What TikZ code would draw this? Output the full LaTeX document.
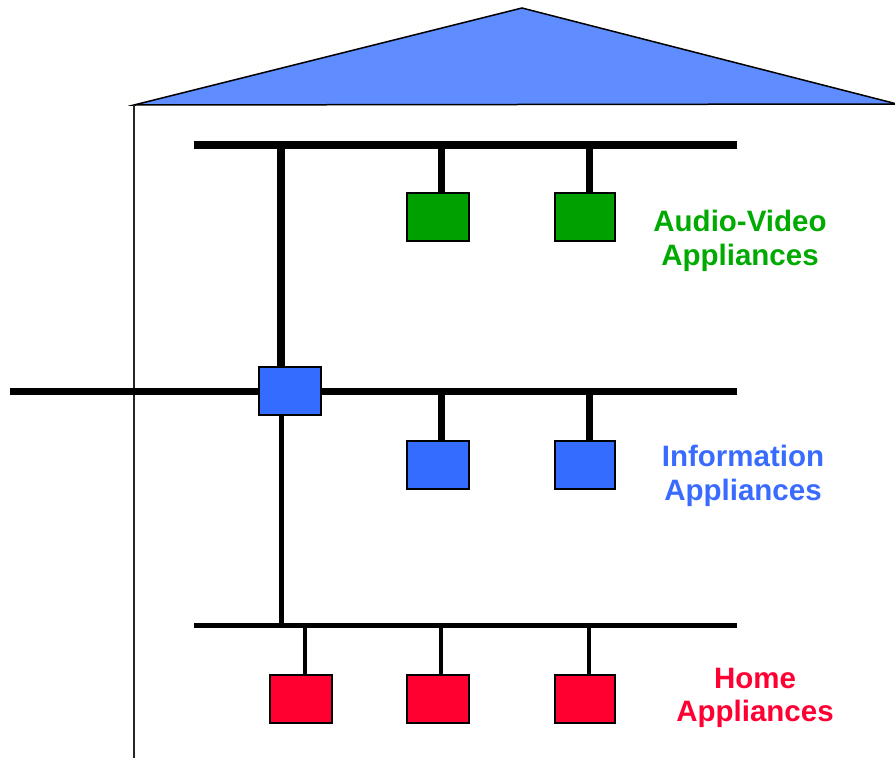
\documentclass[tikz,border=0pt]{standalone}
\usepackage{fontspec}
\setmainfont{Liberation Sans}
\definecolor{roofblue}{HTML}{5F8DFF}
\definecolor{infoblue}{HTML}{336CFF}
\definecolor{avgreen}{HTML}{00A000}
\definecolor{homered}{HTML}{FF0030}
\definecolor{avtext}{HTML}{00AA00}
\definecolor{infotext}{HTML}{3A6BFF}
\definecolor{hometext}{HTML}{FF0033}
\begin{document}
\begin{tikzpicture}[x=1pt,y=-1pt,
  dev/.style={draw=black,line width=1.5pt,minimum width=62pt,minimum height=48pt,inner sep=0pt,anchor=north west},
  bus/.style={line width=#1,black},
  lbl/.style={font=\fontsize{29.5}{33.5}\selectfont\bfseries,align=center,inner sep=0pt}]
\useasboundingbox (0,0) rectangle (895,758);
% roof and wall
\draw[fill=roofblue,line width=1.5pt,line join=miter] (134,105) -- (522,8) -- (897,104) -- cycle;
\draw[line width=1.3pt,black!85] (134,105) -- (134,758);
% bus endpoints
\coordinate (t1) at (194,145); \coordinate (t2) at (737,145);
\coordinate (m1) at (10,391);  \coordinate (m2) at (737,391);
\coordinate (b1) at (194,625); \coordinate (b2) at (737,625);
\coordinate (tj) at (281,145); \coordinate (bj) at (281,625);
\coordinate (ta) at (441,145); \coordinate (tb) at (589,145);
\coordinate (ma) at (441,391); \coordinate (mb) at (589,391);
\coordinate (ba) at (305,625); \coordinate (bb) at (441,625); \coordinate (bc) at (589,625);
% buses
\draw[bus=8pt] (t1) -- (t2);
\draw[bus=7pt] (m1) -- (m2);
\draw[bus=5pt] (b1) -- (b2);
% devices
\node[dev,fill=infoblue] (hub) at (258,366) {};
\node[dev,fill=avgreen] (av1) at (406,192) {};
\node[dev,fill=avgreen,minimum width=60pt] (av2) at (554,192) {};
\node[dev,fill=infoblue] (in1) at (406,440) {};
\node[dev,fill=infoblue,minimum width=60pt] (in2) at (554,440) {};
\node[dev,fill=homered] (h1) at (269,674) {};
\node[dev,fill=homered] (h2) at (406,674) {};
\node[dev,fill=homered,minimum width=60pt] (h3) at (554,674) {};
% connectors
\draw[bus=8pt] (tj) -- (tj |- hub.north);
\draw[bus=5pt] (bj |- hub.south) -- (bj);
\draw[bus=7pt] (ta) -- (ta |- av1.north);
\draw[bus=7pt] (tb) -- (tb |- av2.north);
\draw[bus=7pt] (ma) -- (ma |- in1.north);
\draw[bus=7pt] (mb) -- (mb |- in2.north);
\draw[bus=3.5pt] (ba) -- (ba |- h1.north);
\draw[bus=4.5pt] (bb) -- (bb |- h2.north);
\draw[bus=4.5pt] (bc) -- (bc |- h3.north);
% labels
\node[lbl,text=avtext] (lav) at (740,241) {Audio-Video\\Appliances};
\node[lbl,text=infotext] (lin) at (743,476) {Information\\Appliances};
\node[lbl,text=hometext] (lho) at (755,698) {Home\\Appliances};
\end{tikzpicture}
\end{document}
